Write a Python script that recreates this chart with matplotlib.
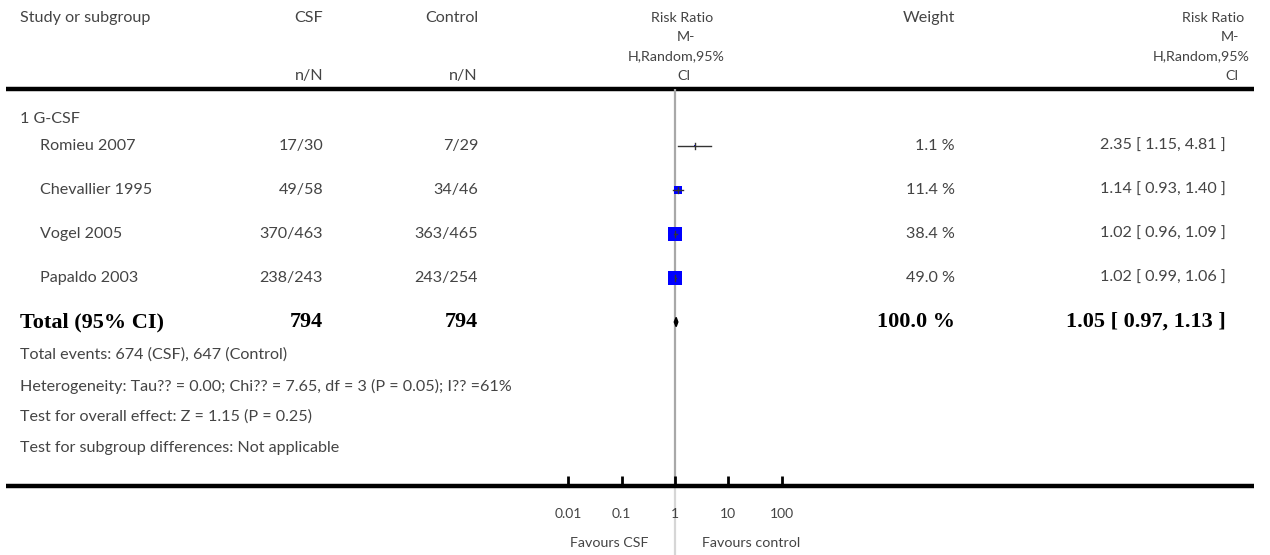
import matplotlib
matplotlib.use("Agg")
import matplotlib.pyplot as plt
import numpy as np

# data
studies = ["Romieu 2007", "Chevallier 1995", "Vogel 2005", "Papaldo 2003"]
csf_n = [17, 49, 370, 238]
csf_N = [30, 58, 463, 243]
ctl_n = [7, 34, 363, 243]
ctl_N = [29, 46, 465, 254]
weights = [1.1, 11.4, 38.4, 49.0]
rr = [2.35, 1.14, 1.02, 1.02]
rr_lo = [1.15, 0.93, 0.96, 0.99]
rr_hi = [4.81, 1.40, 1.09, 1.06]
total_csf = 794
total_ctl = 794
total_w = 100.0
total_rr = 1.05
total_lo = 0.97
total_hi = 1.13
subgroup = "1 G-CSF"
footer = ["Total events: 674 (CSF), 647 (Control)",
          "Heterogeneity: Tau?? = 0.00; Chi?? = 7.65, df = 3 (P = 0.05); I?? =61%",
          "Test for overall effect: Z = 1.15 (P = 0.25)",
          "Test for subgroup differences: Not applicable"]
rr_header = ["Risk Ratio", "M-", "H,Random,95%", "CI"]
ticks = [0.01, 0.1, 1, 10, 100]
tick_labels = ["0.01", "0.1", "1", "10", "100"]

W, H = 1270, 555
FONT = ["Lato", "DejaVu Sans"]
SERIF = ["Liberation Serif", "DejaVu Serif"]
GREY = "#444444"
FS = 11.6
HFS = 10.3
BFS = 16

# layout (pixels)
X_LEFT = 20
X_NAME = 40
X_CSF = 323
X_CTL = 478
X_W = 955
X_RRV = 1226
X_START = 6
X_END = 1254
HDR_L = [682, 686, 676, 684]       # centres, left RR header
HDR_R = [1244, 1239, 1250, 1239]   # right edges, right RR header
Y_ROW0 = 146
DY = 44
Y_AXIS = 486
Y_HLINE = 89
X_ONE = 675
PX_DEC = 53.3

fig = plt.figure(figsize=(W / 100, H / 100), dpi=100)
ax = fig.add_axes([0, 0, 1, 1])
ax.set_xlim(0, W)
ax.set_ylim(H, 0)
ax.axis("off")


def txt(x, y, s, ha="left", bold=False, size=FS):
    if bold:
        ax.text(x, y, s, ha=ha, va="center", fontsize=BFS, fontweight="bold",
                family=SERIF, color="black")
    else:
        ax.text(x, y, s, ha=ha, va="center", fontsize=size, family=FONT,
                color=GREY)


# header
txt(X_LEFT, 18, "Study or subgroup")
txt(X_CSF, 18, "CSF", ha="right")
txt(X_CTL, 18, "Control", ha="right")
txt(X_CSF, 76, "n/N", ha="right")
txt(X_CTL, 76, "n/N", ha="right")
for i, s in enumerate(rr_header):
    txt(HDR_L[i], 18 + 19.3 * i, s, ha="center", size=HFS)
    txt(HDR_R[i], 18 + 19.3 * i, s, ha="right", size=HFS)
txt(X_W, 18, "Weight", ha="right")
ax.plot([X_START, X_END], [Y_HLINE, Y_HLINE], color="black", lw=3.2,
        solid_capstyle="butt")

# rows
txt(X_LEFT, Y_ROW0 - 27, subgroup)
for i, name in enumerate(studies):
    y = Y_ROW0 + DY * i
    txt(X_NAME, y, name)
    txt(X_CSF, y, f"{csf_n[i]}/{csf_N[i]}", ha="right")
    txt(X_CTL, y, f"{ctl_n[i]}/{ctl_N[i]}", ha="right")
    txt(X_W, y, f"{weights[i]:.1f} %", ha="right")
    txt(X_RRV, y, f"{rr[i]:.2f} [ {rr_lo[i]:.2f}, {rr_hi[i]:.2f} ]", ha="right")

yt = Y_ROW0 + DY * len(studies)
txt(X_LEFT, yt, "Total (95% CI)", bold=True)
txt(X_CSF, yt, f"{total_csf}", ha="right", bold=True)
txt(X_CTL, yt, f"{total_ctl}", ha="right", bold=True)
txt(X_W, yt, f"{total_w:.1f} %", ha="right", bold=True)
txt(X_RRV, yt, f"{total_rr:.2f} [ {total_lo:.2f}, {total_hi:.2f} ]", ha="right", bold=True)

for i, s in enumerate(footer):
    txt(X_LEFT, 355 + 31 * i, s)

txt(648, 543, "Favours CSF", ha="right", size=10.3)
txt(702, 543, "Favours control", ha="left", size=10.3)

# forest axes: log x, rows as units
fax = fig.add_axes([X_START / W, 1 - Y_AXIS / H, (X_END - X_START) / W,
                    (Y_AXIS - Y_HLINE) / H])
fax.patch.set_alpha(0)
fax.set_xscale("log")
fax.set_xlim(10 ** ((X_START - X_ONE) / PX_DEC), 10 ** ((X_END - X_ONE) / PX_DEC))
top = (Y_HLINE - Y_ROW0) / DY
bot = (Y_AXIS - Y_ROW0) / DY
fax.set_ylim(bot, top)
for s in ["top", "left", "right"]:
    fax.spines[s].set_visible(False)
fax.spines["bottom"].set_linewidth(3.2)
fax.spines["bottom"].set_capstyle("butt")
fax.set_yticks([])
fax.set_xticks(ticks)
fax.set_xticklabels(tick_labels, family=FONT, fontsize=10, color=GREY)
fax.minorticks_off()
fax.tick_params(axis="x", direction="in", length=7, width=2, pad=16, color="black")

fax.axvline(1, color="#a8a8a8", lw=1.6, zorder=1)
fax.plot([1, 1], [bot, bot + (H - Y_AXIS) / DY], color="#d6d6d6", lw=1.6,
         clip_on=False, zorder=1)

rows = np.arange(len(studies))
sizes = 2.14 * np.sqrt(weights) * 0.72
for i in rows:
    fax.plot([rr_lo[i], rr_hi[i]], [i, i], color="#333333", lw=1.0, zorder=3)
    fax.plot(rr[i], i, marker="s", ms=sizes[i], color="#0000ff", mew=0, zorder=2)
    fax.plot([rr[i], rr[i]], [i - 0.07, i + 0.07], color="#333333", lw=1.0, zorder=3)

n = len(studies)
fax.fill([total_lo, total_rr, total_hi, total_rr],
         [n, n - 0.105, n, n + 0.105], color="black", zorder=3)

fig.savefig("out.png", dpi=100)
